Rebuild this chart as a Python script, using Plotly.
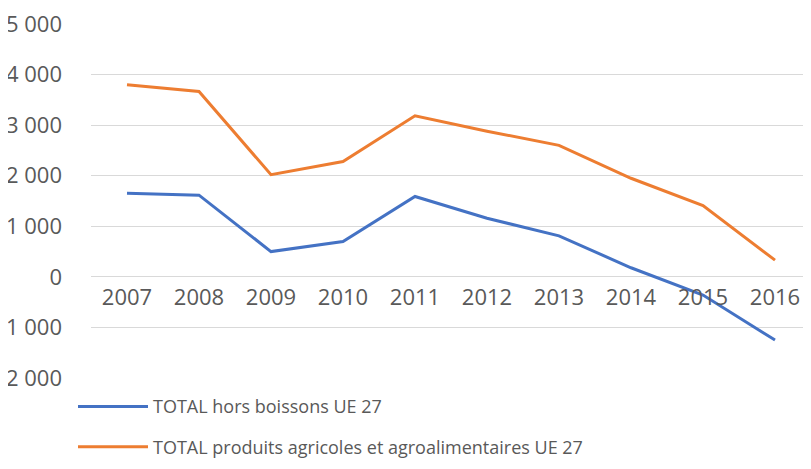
import plotly.graph_objects as go

years = ["2007", "2008", "2009", "2010", "2011", "2012", "2013", "2014", "2015", "2016"]
hors_boissons = [1655, 1615, 500, 700, 1590, 1160, 810, 180, -360, -1250]
produits_agri = [3800, 3665, 2020, 2280, 3185, 2880, 2600, 1950, 1410, 330]

y_tickvals = [-2000, -1000, 0, 1000, 2000, 3000, 4000, 5000]
y_ticktext = ["-2 000", "-1 000", "0", "1 000", "2 000", "3 000", "4 000", "5 000"]

name_blue = "TOTAL hors boissons UE 27"
name_orange = "TOTAL produits agricoles et agroalimentaires UE 27"

FONT = "Open Sans"
GREY = "#595959"

fig = go.Figure()
fig.add_trace(go.Scatter(x=years, y=hors_boissons, mode="lines", name=name_blue,
                         line=dict(color="#4472C4", width=3), legendgroup="a"))
fig.add_trace(go.Scatter(x=years, y=produits_agri, mode="lines", name=name_orange,
                         line=dict(color="#ED7D31", width=3), legendgroup="b"))

ymin, ymax = -2000, 5000
fig.update_layout(
    width=803, height=461,
    margin=dict(l=83, r=0, t=16, b=91, autoexpand=False),
    paper_bgcolor="white", plot_bgcolor="white",
    font=dict(family=FONT, size=19, color=GREY),
    showlegend=True,
    legend=dict(x=-0.025, y=-0.029, xanchor="left", yanchor="top",
                orientation="v", tracegroupgap=14, itemwidth=70,
                font=dict(family=FONT, size=18, color=GREY),
                bgcolor="rgba(0,0,0,0)"),
    xaxis=dict(type="category", range=[-0.5, 9.5], showgrid=False, zeroline=False,
               showline=False, ticks="", anchor="free",
               position=(0 - ymin) / (ymax - ymin),
               tickfont=dict(family=FONT, size=22, color=GREY),
               ticklabelstandoff=5, ticklabeloverflow="allow"),
    yaxis=dict(range=[ymin, ymax], tickvals=y_tickvals, ticktext=y_ticktext,
               showgrid=True, gridcolor="#D9D9D9", gridwidth=1,
               zeroline=False, showline=False, ticks="",
               automargin=False, ticklabelstandoff=28, ticklabeloverflow="allow",
               tickfont=dict(family=FONT, size=22, color=GREY)),
)

fig.write_html("out.html")
